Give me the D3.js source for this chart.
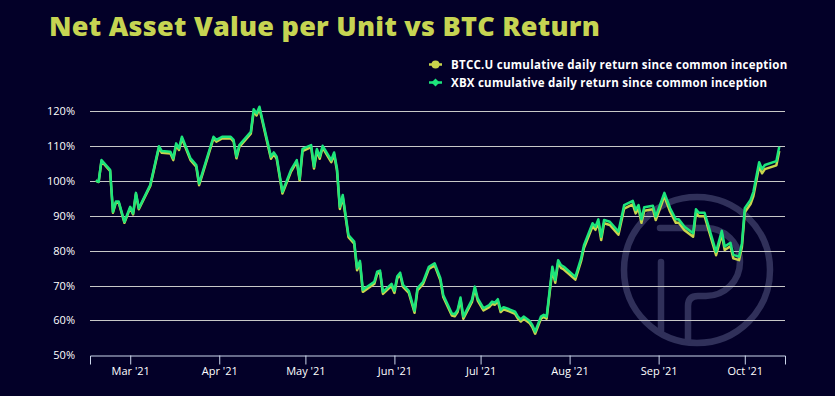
<!DOCTYPE html>
<html><head><meta charset="utf-8">
<script src="https://cdn.jsdelivr.net/npm/d3@7"></script>
<style>html,body{margin:0;padding:0;background:#030028;}svg{display:block}</style>
</head><body><svg id="c" width="835" height="396"></svg>
<script>
const titleText = "Net Asset Value per Unit vs BTC Return";
const seriesNames = ["BTCC.U cumulative daily return since common inception", "XBX cumulative daily return since common inception"];
const dates = ["2021-02-17","2021-02-18","2021-02-19","2021-02-22","2021-02-23","2021-02-24","2021-02-25","2021-02-27","2021-03-01","2021-03-02",
"2021-03-03","2021-03-04","2021-03-08","2021-03-11","2021-03-12","2021-03-15","2021-03-16","2021-03-17","2021-03-18","2021-03-19",
"2021-03-22","2021-03-24","2021-03-25","2021-03-30","2021-03-31","2021-04-02","2021-04-05","2021-04-06","2021-04-07","2021-04-08",
"2021-04-12","2021-04-13","2021-04-14","2021-04-15","2021-04-19","2021-04-20","2021-04-21","2021-04-23","2021-04-26","2021-04-28",
"2021-04-29","2021-04-30","2021-05-03","2021-05-04","2021-05-05","2021-05-06","2021-05-07","2021-05-10","2021-05-11","2021-05-12",
"2021-05-13","2021-05-14","2021-05-16","2021-05-18","2021-05-19","2021-05-20","2021-05-21","2021-05-25","2021-05-26","2021-05-27",
"2021-05-28","2021-05-31","2021-06-01","2021-06-02","2021-06-03","2021-06-04","2021-06-06","2021-06-08","2021-06-09","2021-06-11",
"2021-06-13","2021-06-15","2021-06-17","2021-06-18","2021-06-21","2021-06-22","2021-06-23","2021-06-24","2021-06-25","2021-06-28",
"2021-06-29","2021-06-30","2021-07-02","2021-07-04","2021-07-05","2021-07-06","2021-07-07","2021-07-08","2021-07-09","2021-07-11",
"2021-07-13","2021-07-14","2021-07-15","2021-07-16","2021-07-18","2021-07-19","2021-07-20","2021-07-22","2021-07-23","2021-07-24",
"2021-07-26","2021-07-27","2021-07-28","2021-07-29","2021-07-30","2021-08-03","2021-08-05","2021-08-06","2021-08-09","2021-08-10",
"2021-08-11","2021-08-12","2021-08-13","2021-08-15","2021-08-18","2021-08-20","2021-08-23","2021-08-24","2021-08-25","2021-08-26",
"2021-08-27","2021-08-30","2021-08-31","2021-09-03","2021-09-05","2021-09-07","2021-09-08","2021-09-10","2021-09-13","2021-09-14",
"2021-09-15","2021-09-17","2021-09-21","2021-09-23","2021-09-24","2021-09-26","2021-09-27","2021-09-29","2021-09-30","2021-10-01",
"2021-10-03","2021-10-04","2021-10-06","2021-10-07","2021-10-08","2021-10-12","2021-10-13"];
const xbxValues = [100.1,99.8,106.0,103.2,91.2,94.1,94.1,88.3,92.6,90.7,
96.6,92.2,98.9,110.0,108.6,108.4,106.5,110.8,109.4,112.7,
106.5,104.6,99.3,112.7,111.8,112.7,112.7,111.8,107.0,110.3,
114.1,120.6,119.4,121.3,107.0,108.2,107.0,96.9,103.2,106.0,
100.6,109.2,110.3,104.1,109.2,107.0,110.1,106.0,108.2,103.6,
92.6,96.0,84.5,82.6,75.0,77.1,68.8,71.1,74.0,74.3,
68.2,70.5,68.5,72.7,73.7,70.2,68.5,62.8,69.2,71.1,
75.4,76.4,72.1,67.3,62.0,61.8,63.0,66.6,61.1,65.9,
69.7,66.3,63.5,64.4,65.4,65.1,66.1,63.0,63.8,63.2,
62.5,61.1,60.3,61.1,59.9,58.7,56.8,61.1,61.6,61.1,
75.4,71.6,77.3,75.9,75.4,72.5,77.8,81.6,87.9,86.9,
89.0,84.0,88.8,88.3,85.5,93.1,94.3,91.7,93.1,89.0,
92.5,92.9,89.8,96.6,92.2,89.0,89.0,86.9,85.0,91.9,
90.9,90.9,79.7,85.7,81.2,82.3,78.8,78.3,82.1,92.2,
94.6,96.9,105.4,103.4,104.6,105.7,109.8];
const btccValues = [100.1,99.7,105.7,102.9,90.9,93.8,93.8,88.0,92.3,90.4,
96.3,91.9,98.6,109.5,108.1,107.9,106.0,110.3,108.9,112.2,
106.0,104.1,98.8,112.2,111.3,112.2,112.2,111.3,106.5,109.8,
113.6,120.0,118.8,120.8,106.4,107.7,106.4,96.4,102.7,105.5,
100.1,108.6,109.7,103.6,108.6,106.4,109.6,105.4,107.6,103.0,
92.0,95.4,83.9,82.0,74.4,76.5,68.2,70.5,73.4,73.7,
67.6,69.9,67.9,72.1,73.1,69.6,67.9,62.2,68.6,70.5,
74.8,75.8,71.5,66.7,61.4,61.2,62.4,66.0,60.5,65.3,
69.1,65.7,62.9,63.8,64.8,64.5,65.5,62.4,63.2,62.6,
61.9,60.5,59.7,60.5,59.3,58.1,56.2,60.5,61.0,60.5,
74.6,70.8,76.5,75.1,74.6,71.7,77.0,80.8,87.0,86.0,
88.1,83.1,87.9,87.4,84.6,92.1,93.3,90.7,92.1,88.0,
91.5,91.9,88.8,95.6,91.2,88.0,88.0,85.9,84.0,90.9,
89.9,89.9,78.7,84.7,80.2,81.3,77.8,77.3,81.1,91.0,
93.4,95.7,104.2,102.2,103.4,104.5,108.6];
const yTicks = [50,60,70,80,90,100,110,120];
const xDomain = ["2021-02-15","2021-10-15"];
const colors = {btcc:"#c9d44c", xbx:"#1de57c", title:"#c6d452", bg:"#030028"};

const svg = d3.select("#c");
svg.append("rect").attr("width",835).attr("height",396).attr("fill",colors.bg);
const parse = d3.utcParse("%Y-%m-%d");
const x = d3.scaleUtc().domain(xDomain.map(parse)).range([90,785]);
const y = d3.scaleLinear().domain([50,120]).range([355.3,111.3]);

// watermark
const wm = svg.append("g").attr("fill","none").attr("stroke","#30305a").attr("stroke-width",6.5).attr("stroke-linecap","round");
wm.append("circle").attr("cx",697).attr("cy",270).attr("r",73);
wm.append("path").attr("d","M661,262V331");
wm.append("path").attr("d","M660,228H706A34,34 0 0 1 706,296H698Q688,296 688,306V340");

// grid
svg.append("g").selectAll("line").data(yTicks.filter(d=>d>50)).join("line")
  .attr("x1",90).attr("x2",785).attr("y1",d=>Math.round(y(d))+0.5).attr("y2",d=>Math.round(y(d))+0.5)
  .attr("stroke","#c8c8c8").attr("stroke-width",1);
// y labels
svg.append("g").selectAll("text").data(yTicks).join("text")
  .attr("x",75).attr("y",d=>y(d)+4).attr("text-anchor","end")
  .attr("font-family","'Open Sans',sans-serif").attr("font-size",11).attr("fill","#ffffff")
  .text(d=>d+"%");
// x axis
const xAxis = d3.axisBottom(x).tickValues(d3.utcMonth.range(parse("2021-03-01"), parse("2021-10-02")))
  .tickFormat(d3.utcFormat("%b '%y")).tickSizeOuter(0).tickSize(9);
const gx = svg.append("g").attr("transform",`translate(0,${Math.round(y(50))+0.5})`).call(xAxis);
gx.select(".domain").attr("stroke","#ccd6eb");
gx.selectAll(".tick line").attr("stroke","#ccd6eb");
gx.selectAll(".tick text").attr("fill","#ffffff").attr("font-family","'Open Sans',sans-serif").attr("font-size",11).attr("dy","0.71em");

// lines
const line = d3.line().x(d=>x(d[0])).y(d=>y(d[1]));
const btcc = dates.map((d,i)=>[parse(d), btccValues[i]]);
const xbx = dates.map((d,i)=>[parse(d), xbxValues[i]]);
svg.append("path").datum(btcc).attr("d",line).attr("fill","none").attr("stroke",colors.btcc).attr("stroke-width",2.5).attr("stroke-linejoin","round");
svg.append("path").datum(xbx).attr("d",line).attr("fill","none").attr("stroke",colors.xbx).attr("stroke-width",2.5).attr("stroke-linejoin","round");

// title
const t = svg.append("text").attr("x",49).attr("y",36).attr("font-family","'Open Sans',sans-serif")
  .attr("font-weight",800).attr("font-size",27).attr("fill",colors.title).text(titleText);
const tw = t.node().getComputedTextLength();
t.attr("letter-spacing",((551-tw)/(titleText.length-1)).toFixed(2)+"px");

// legend
const legend = [{name:seriesNames[0],color:colors.btcc,shape:"circle",yb:68.5,w:336},
                {name:seriesNames[1],color:colors.xbx,shape:"diamond",yb:86.5,w:316}];
legend.forEach(l=>{
  const cy = l.yb-4;
  svg.append("line").attr("x1",429).attr("x2",442).attr("y1",cy).attr("y2",cy).attr("stroke",l.color).attr("stroke-width",2.5);
  if(l.shape==="circle") svg.append("circle").attr("cx",435.5).attr("cy",cy).attr("r",4).attr("fill",l.color);
  else svg.append("path").attr("d",d3.symbol(d3.symbolDiamond2,40)()).attr("transform",`translate(435.5,${cy})`).attr("fill",l.color);
  const tt = svg.append("text").attr("x",451).attr("y",l.yb).attr("font-family","'Open Sans',sans-serif")
    .attr("font-weight",700).attr("font-size",11.5).attr("fill","#ffffff").text(l.name);
  const w = tt.node().getComputedTextLength();
  tt.attr("letter-spacing",((l.w-w)/(l.name.length-1)).toFixed(2)+"px");
});
</script></body></html>
